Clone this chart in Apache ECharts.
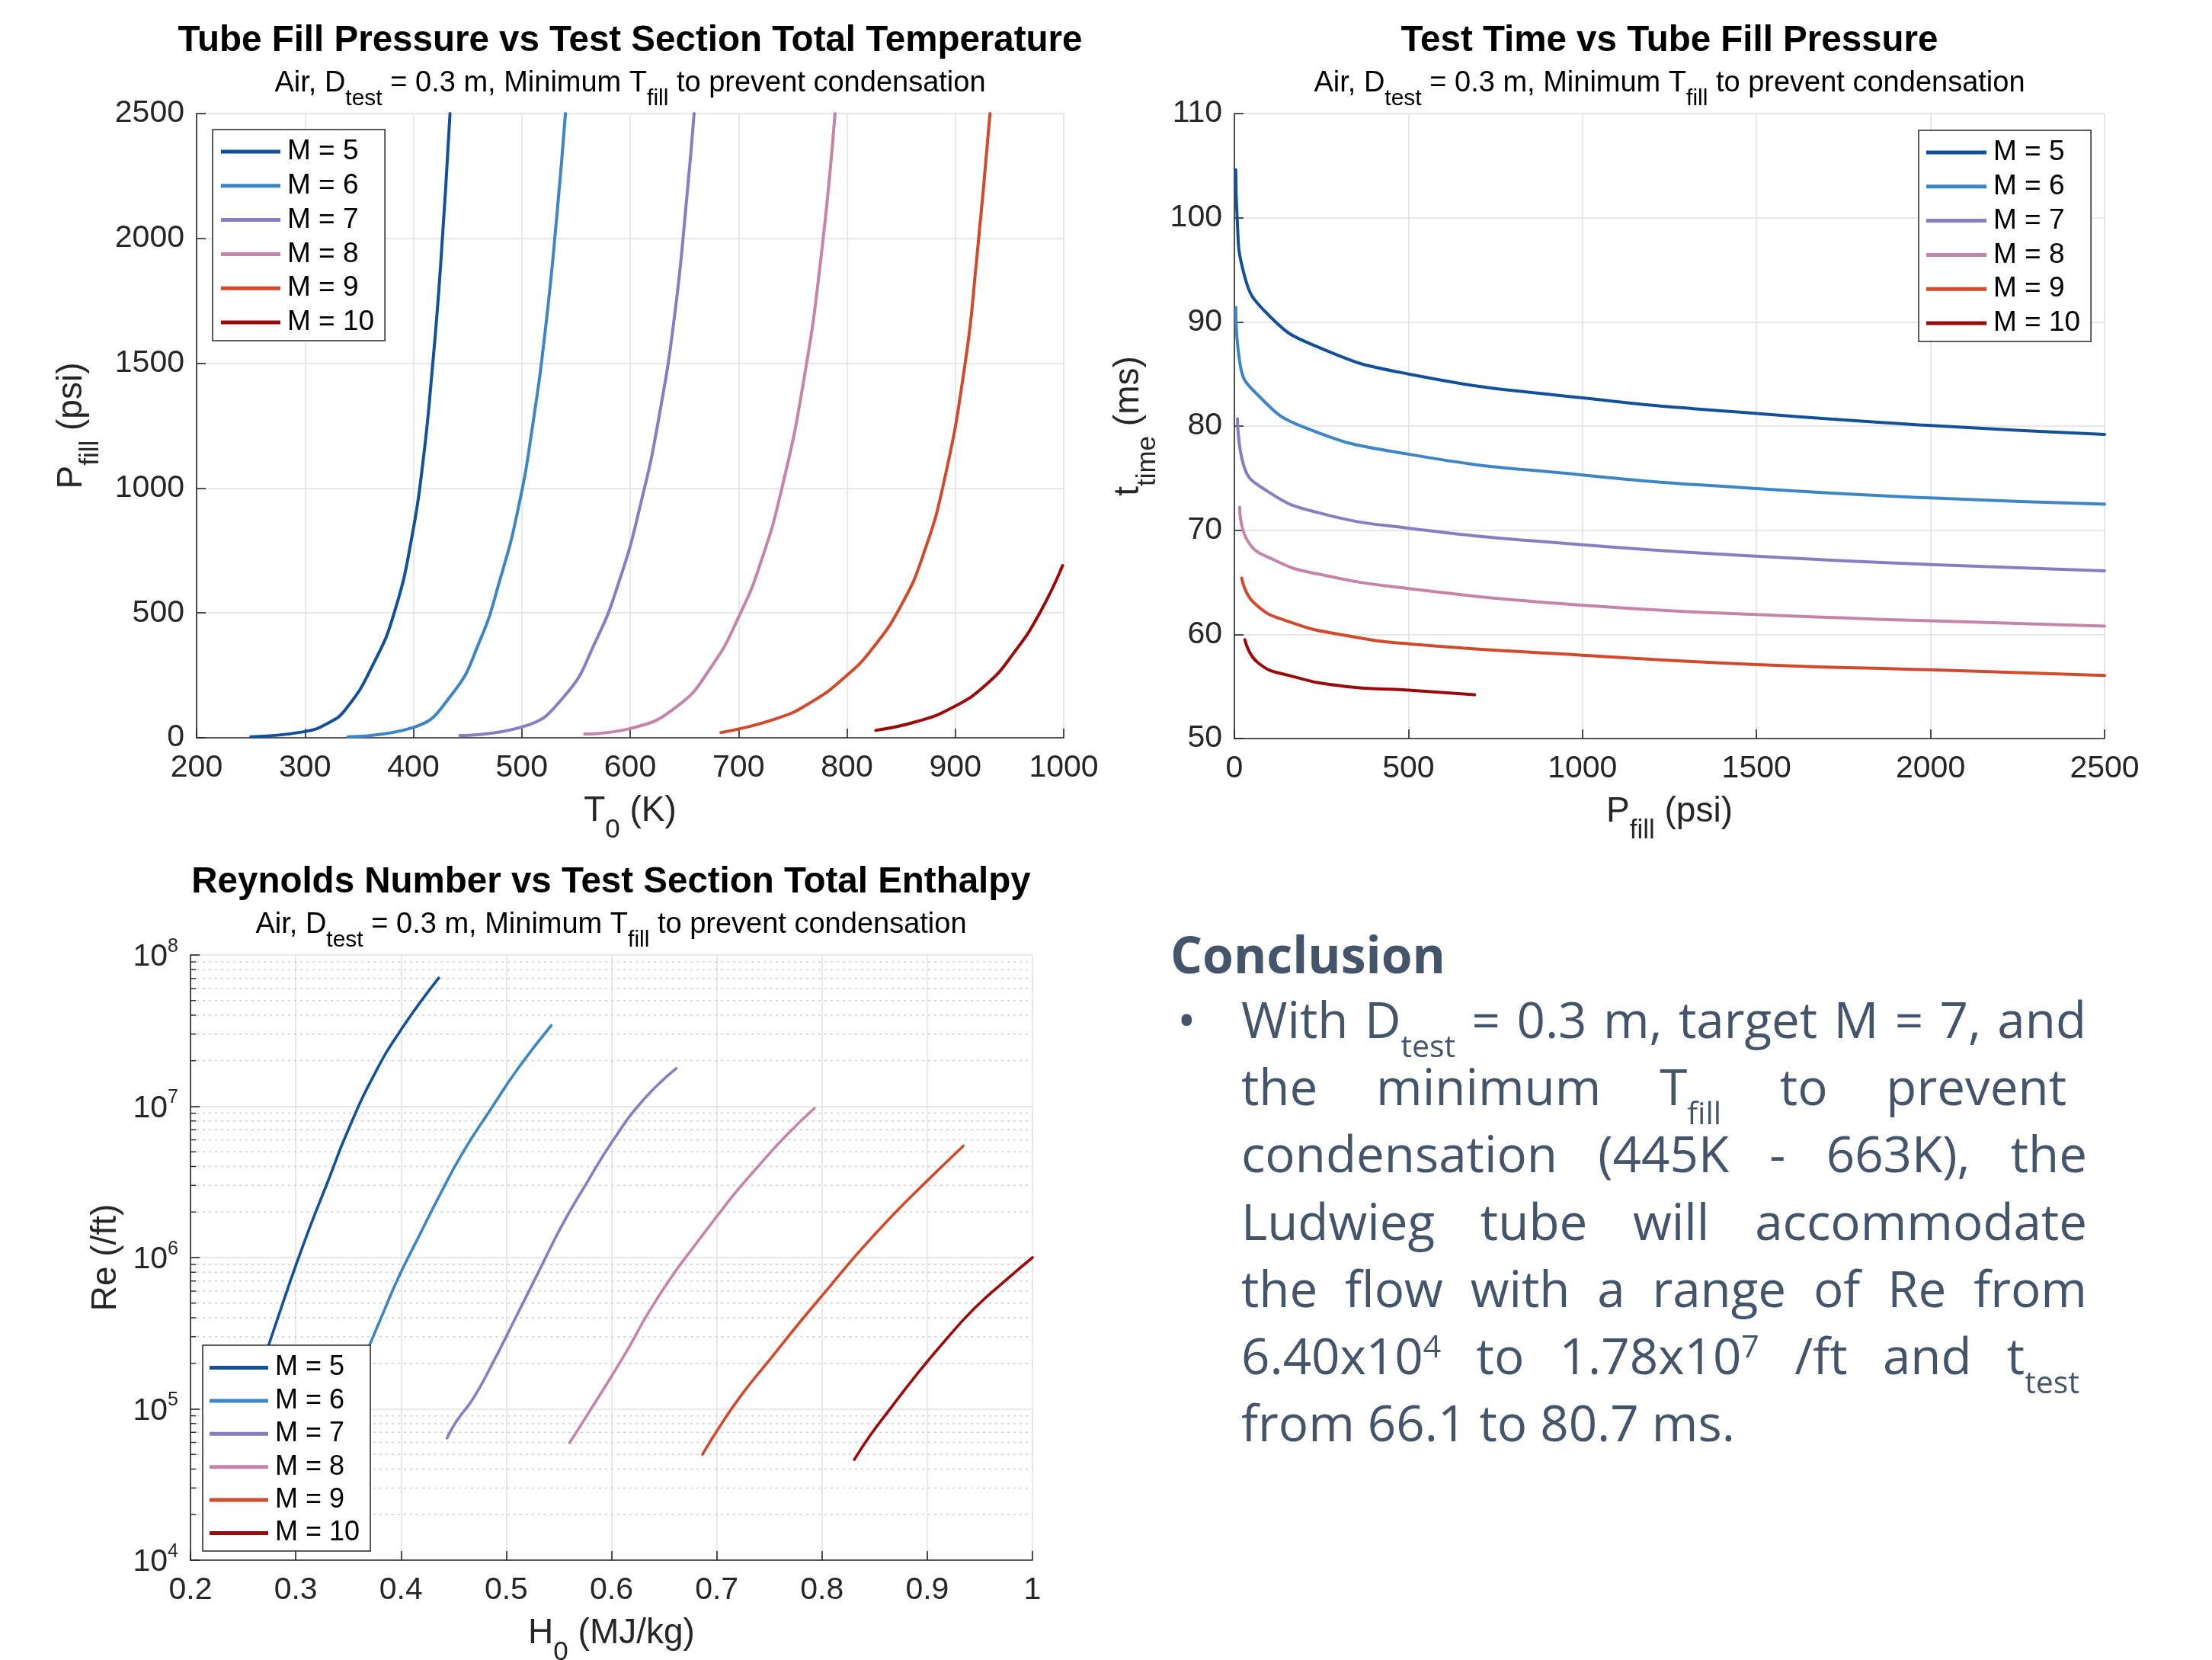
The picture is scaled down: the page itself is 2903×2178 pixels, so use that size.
<!DOCTYPE html>
<html>
<head>
<meta charset="utf-8">
<title>Ludwieg tube performance</title>
<script src="https://cdn.jsdelivr.net/npm/echarts@6/dist/echarts.min.js"></script>
<style>
  html, body { margin: 0; padding: 0; background: #ffffff; }
  #chart { width: 2903px; height: 2178px; }
</style>
</head>
<body>
<div id="chart"></div>
<script>
// ---------- series labels and colours ----------
const machLabels = ['M = 5', 'M = 6', 'M = 7', 'M = 8', 'M = 9', 'M = 10'];
const machColors = ['#12519a', '#3d86c6', '#8a7cc2', '#c684a8', '#d24a2c', '#9b0a0a'];

// ---------- Tube fill pressure (psi) vs total temperature T0 (K) ----------
const t0M5  = [250, 298.7, 320, 337.7, 363.6, 383, 399, 409, 417, 425, 433.8];
const pFillM5 = [4, 24, 56, 115, 300, 510, 813, 1110, 1455, 1884, 2500];
const t0M6  = [339.6, 399, 435, 461, 480.5, 496.8, 509.7, 522.7, 532.5, 540.3];
const pFillM6 = [4, 40, 171, 385, 642, 920, 1241, 1670, 2098, 2500];
const t0M7  = [442.9, 500, 539, 568, 591, 610, 626.6, 641.6, 652.6, 659];
const pFillM7 = [9, 43, 165, 385, 642, 942, 1284, 1712, 2180, 2500];
const t0M8  = [558, 600, 643, 675, 701, 720.8, 740, 759.7, 776, 789];
const pFillM8 = [15, 37, 125, 285, 492, 706, 1000, 1420, 1920, 2500];
const t0M9  = [683.8, 733.8, 766, 798.7, 824.7, 850.6, 870, 889.6, 909, 919, 932];
const pFillM9 = [21, 75, 140, 245, 364, 535, 728, 1027, 1498, 1884, 2500];
const t0M10 = [826.6, 863.6, 896, 928.6, 954.5, 977.3, 999];
const pFillM10 = [30, 64, 118, 214, 343, 495, 690];

// ---------- Test time (ms) vs tube fill pressure (psi) ----------
const pTubeM5 = [4, 8, 26, 97, 239, 500, 1000, 1500, 2000, 2500];
const tTimeM5 = [104.6, 99.9, 94.8, 90.7, 87.6, 85.0, 82.7, 81.2, 80.05, 79.2];
const pTubeM6 = [4, 16, 67, 199, 500, 1000, 1500, 2000, 2500];
const tTimeM6 = [91.4, 86.0, 83.0, 79.9, 77.3, 75.3, 74.0, 73.1, 72.5];
const pTubeM7 = [9, 26, 97, 239, 500, 1000, 1500, 2000, 2500];
const tTimeM7 = [80.7, 76.3, 73.7, 71.7, 70.2, 68.6, 67.5, 66.7, 66.1];
const pTubeM8 = [15, 36, 117, 239, 500, 1000, 1500, 2000, 2500];
const tTimeM8 = [72.2, 69.1, 67.1, 65.8, 64.4, 62.8, 61.9, 61.3, 60.8];
const pTubeM9 = [21, 57, 158, 320, 500, 1000, 1500, 2000, 2500];
const tTimeM9 = [65.4, 63.0, 61.2, 59.9, 59.1, 58.0, 57.1, 56.6, 56.05];
const pTubeM10 = [30, 67, 158, 320, 500, 690];
const tTimeM10 = [59.5, 57.3, 56.05, 55.0, 54.65, 54.2];

// ---------- Unit Reynolds number (/ft) vs total enthalpy H0 (MJ/kg) ----------
const h0M5 = [0.262, 0.2741, 0.2845, 0.2974, 0.3136, 0.3298, 0.349, 0.375, 0.401, 0.4359];
const reM5 = [1.48e5, 2.62e5, 4.29e5, 7.85e5, 1.60e6, 3.09e6, 6.76e6, 1.64e7, 3.28e7, 7.05e7];
const h0M6 = [0.352, 0.3686, 0.3816, 0.3977, 0.4172, 0.4366, 0.4592, 0.4851, 0.511, 0.5427];
const reM6 = [1.32e5, 2.49e5, 4.07e5, 7.41e5, 1.39e6, 2.57e6, 5.01e6, 9.51e6, 1.77e7, 3.42e7];
const h0M7 = [0.4437, 0.4528, 0.4689, 0.4883, 0.5078, 0.5304, 0.5531, 0.5757, 0.6016, 0.6307, 0.6615];
const reM7 = [6.40e4, 8.3e4, 1.18e5, 2.08e5, 3.86e5, 7.96e5, 1.64e6, 3.05e6, 5.97e6, 1.11e7, 1.78e7];
const h0M8 = [0.5602, 0.579, 0.6125, 0.6346, 0.6568, 0.679, 0.7011, 0.7178, 0.740, 0.765, 0.7928];
const reM8 = [5.97e4, 9.59e4, 2.28e5, 4.27e5, 7.41e5, 1.20e6, 1.91e6, 2.69e6, 4.06e6, 6.31e6, 9.71e6];
const h0M9 = [0.6865, 0.7035, 0.7233, 0.751, 0.7787, 0.8064, 0.8341, 0.8673, 0.9006, 0.9343];
const reM9 = [5.01e4, 7.76e4, 1.23e5, 2.14e5, 3.72e5, 6.31e5, 1.07e6, 1.91e6, 3.25e6, 5.47e6];
const h0M10 = [0.8307, 0.8452, 0.8618, 0.8895, 0.9172, 0.9449, 0.9726, 1.0];
const reM10 = [4.62e4, 6.59e4, 9.40e4, 1.67e5, 2.84e5, 4.62e5, 6.89e5, 1.0e6];

// minor log grid: multiples inside each decade
const reDecades = [1e4, 1e5, 1e6, 1e7];
const reMinorSteps = [2, 3, 4, 5, 6, 7, 8, 9];

// ---------- conclusion text (markup: _{sub}, ^{sup}) ----------
const conclusionTitle = 'Conclusion';
const conclusionLines = [
  'With D_{test} = 0.3 m, target M = 7, and',
  'the minimum T_{fill} to prevent',
  'condensation (445K - 663K), the',
  'Ludwieg tube will accommodate',
  'the flow with a range of Re from',
  '6.40x10^{4} to 1.78x10^{7} /ft and t_{test}',
  'from 66.1 to 80.7 ms.'
];

// ================= drawing =================
const FONT = '"Liberation Sans", Arial, Helvetica, sans-serif';
const INK = '#262626';
const GRID_LINE = '#e1e1e1';
const BODY_INK = '#44546a';

const zip = (xs, ys) => xs.map((x, i) => [x, ys[i]]);

const fillSets = [zip(t0M5, pFillM5), zip(t0M6, pFillM6), zip(t0M7, pFillM7),
                  zip(t0M8, pFillM8), zip(t0M9, pFillM9), zip(t0M10, pFillM10)];
const timeSets = [zip(pTubeM5, tTimeM5), zip(pTubeM6, tTimeM6), zip(pTubeM7, tTimeM7),
                  zip(pTubeM8, tTimeM8), zip(pTubeM9, tTimeM9), zip(pTubeM10, tTimeM10)];
const reSets = [zip(h0M5, reM5), zip(h0M6, reM6), zip(h0M7, reM7),
                zip(h0M8, reM8), zip(h0M9, reM9), zip(h0M10, reM10)];
const reMinorValues = [];
reDecades.forEach(d => reMinorSteps.forEach(s => reMinorValues.push(s * d)));

function curveSeries(sets, idx, width) {
  return sets.map((data, i) => ({
    type: 'line', name: machLabels[i], xAxisIndex: idx, yAxisIndex: idx,
    data, smooth: 0.5, showSymbol: false, symbol: 'none',
    silent: true, clip: true, z: 3,
    lineStyle: { color: machColors[i], width, cap: 'round', join: 'round' },
    itemStyle: { color: machColors[i] },
    emphasis: { disabled: true }
  }));
}

const nameRich = {
  m: { fontFamily: FONT, fontSize: 46, color: INK, verticalAlign: 'top' },
  s: { fontFamily: FONT, fontSize: 35, color: INK, verticalAlign: 'top', padding: [31, 0, 0, 0] }
};
const plainNumber = v => String(v);

function axisBase(gridIndex, extra) {
  return Object.assign({
    gridIndex,
    axisLine: { show: true, onZero: false, lineStyle: { color: INK, width: 1.6 } },
    axisTick: { show: true, inside: true, length: 12, lineStyle: { color: INK, width: 1.6 } },
    splitLine: { show: true, lineStyle: { color: GRID_LINE, width: 1.5 } },
    axisLabel: { color: INK, fontFamily: FONT, fontSize: 41, margin: 19, formatter: plainNumber },
    nameLocation: 'middle',
    nameTextStyle: { fontFamily: FONT, fontSize: 46, color: INK, rich: nameRich }
  }, extra);
}

const subtitle = '{a|Air, D}{s|test}{a| = 0.3 m, Minimum T}{s|fill}{a| to prevent condensation}';
const subRich = {
  a: { fontFamily: FONT, fontSize: 38, color: '#000', verticalAlign: 'top' },
  s: { fontFamily: FONT, fontSize: 30, color: '#000', verticalAlign: 'top', padding: [24, 0, 0, 0] }
};
function titleAt(text, cx, top) {
  return {
    text, subtext: subtitle, left: cx, top, textAlign: 'center', padding: 0, itemGap: 13,
    textStyle: { fontFamily: FONT, fontSize: 47.5, fontWeight: 'bold', color: '#000' },
    subtextStyle: { fontFamily: FONT, fontSize: 38, color: '#000', rich: subRich }
  };
}

function legendAt(left, top, pad, iconW, fontSize, rowH, gap) {
  return {
    show: true, orient: 'vertical', left, top, padding: pad, itemGap: gap,
    itemWidth: iconW, itemHeight: 5, icon: 'rect', selectedMode: false,
    backgroundColor: '#ffffff', borderColor: INK, borderWidth: 1.5, borderRadius: 0,
    data: machLabels, z: 10,
    itemStyle: { borderWidth: 0 },
    textStyle: { fontFamily: FONT, fontSize, color: '#000', lineHeight: rowH, padding: [0, 0, 0, 4] }
  };
}

// ---------- conclusion paragraph layout (justified) ----------
const measureCtx = document.createElement('canvas').getContext('2d');
const BODY_FAMILY = '"Open Sans"';
function bodyFont(size, weight) { return `${weight} ${size}px ${BODY_FAMILY}`; }
function textWidth(t, size, weight) {
  measureCtx.font = bodyFont(size, weight);
  return measureCtx.measureText(t).width;
}
function middleOffset(size, weight) {
  measureCtx.font = bodyFont(size, weight);
  measureCtx.textBaseline = 'middle';
  const m = measureCtx.measureText('H');
  measureCtx.textBaseline = 'alphabetic';
  return m.actualBoundingBoxDescent;
}
function parseWord(w) {
  const segs = []; const re = /([_^])\{([^}]*)\}/g; let last = 0, m;
  while ((m = re.exec(w))) {
    if (m.index > last) segs.push({ t: w.slice(last, m.index), k: 'n' });
    segs.push({ t: m[2], k: m[1] === '_' ? 'sub' : 'sup' });
    last = re.lastIndex;
  }
  if (last < w.length) segs.push({ t: w.slice(last), k: 'n' });
  return segs;
}
function textEl(text, x, baseline, size, weight) {
  return {
    type: 'text', x, y: baseline - middleOffset(size, weight), silent: true, z: 20,
    style: {
      text, fill: BODY_INK, font: bodyFont(size, weight),
      fontFamily: BODY_FAMILY, fontSize: size, fontWeight: weight,
      align: 'left', verticalAlign: 'middle', textAlign: 'left', textVerticalAlign: 'middle'
    }
  };
}
function buildConclusion() {
  const els = [];
  const BODY = 65.5, SCRIPT = 41, SUB_SHIFT = 25, SUP_SHIFT = -22;
  const left = 1629, firstBaseline = 1362, lineStep = 88.2;
  const rightEdges = [2738, 2712, 2739, 2739, 2739, 2729, null];
  els.push(textEl(conclusionTitle, 1536, 1277, 66, 'bold'));
  els.push(textEl('\u2022', 1545, firstBaseline, BODY, 'normal'));
  conclusionLines.forEach((line, li) => {
    const words = line.split(' ').map(parseWord);
    const segSize = s => (s.k === 'n' ? BODY : SCRIPT);
    const widths = words.map(segs => segs.reduce((a, s) => a + textWidth(s.t, segSize(s), 'normal'), 0));
    const total = widths.reduce((a, b) => a + b, 0);
    const right = rightEdges[li];
    const gap = right && words.length > 1 ? (right - left - total) / (words.length - 1)
                                          : textWidth(' ', BODY, 'normal');
    const baseline = firstBaseline + li * lineStep;
    let x = left;
    words.forEach(segs => {
      segs.forEach(s => {
        const size = segSize(s);
        const shift = s.k === 'sub' ? SUB_SHIFT : (s.k === 'sup' ? SUP_SHIFT : 0);
        els.push(textEl(s.t, x, baseline + shift, size, 'normal'));
        x += textWidth(s.t, size, 'normal');
      });
      x += gap;
    });
  });
  return els;
}

const option = {
  animation: false,
  backgroundColor: '#ffffff',
  title: [
    titleAt('Tube Fill Pressure vs Test Section Total Temperature', 827, 30),
    titleAt('Test Time vs Tube Fill Pressure', 2191, 30),
    titleAt('Reynolds Number vs Test Section Total Enthalpy', 802, 1134)
  ],
  grid: [
    { left: 258, top: 149, width: 1138, height: 819, outerBoundsMode: 'none', containLabel: false },
    { left: 1620, top: 149, width: 1142, height: 820, outerBoundsMode: 'none', containLabel: false },
    { left: 250, top: 1253, width: 1105, height: 794, outerBoundsMode: 'none', containLabel: false }
  ],
  legend: [
    legendAt(279, 170, [9, 14, 4, 11], 78, 37, 40, 4.8),
    legendAt(2518, 171, [9, 14, 4, 10], 79, 37, 40, 4.8),
    legendAt(266, 1765, [10, 14, 4, 9], 77, 36, 39, 4.4)
  ],
  xAxis: [
    axisBase(0, { type: 'value', min: 200, max: 1000, interval: 100,
      name: '{m|T}{s|0}{m| (K)}', nameGap: 73 }),
    axisBase(1, { type: 'value', min: 0, max: 2500, interval: 500,
      name: '{m|P}{s|fill}{m| (psi)}', nameGap: 73 }),
    axisBase(2, { type: 'value', min: 0.2, max: 1, interval: 0.1,
      name: '{m|H}{s|0}{m| (MJ/kg)}', nameGap: 73,
      axisLabel: { color: INK, fontFamily: FONT, fontSize: 41, margin: 19,
        formatter: v => String(+v.toFixed(1)) } })
  ],
  yAxis: [
    axisBase(0, { type: 'value', min: 0, max: 2500, interval: 500,
      name: '{m|P}{s|fill}{m| (psi)}', nameGap: 121,
      axisLabel: { color: INK, fontFamily: FONT, fontSize: 41, margin: 16, formatter: plainNumber } }),
    axisBase(1, { type: 'value', min: 50, max: 110, interval: 10,
      name: '{m|t}{s|time}{m| (ms)}', nameGap: 96,
      axisLabel: { color: INK, fontFamily: FONT, fontSize: 41, margin: 16, formatter: plainNumber } }),
    axisBase(2, { type: 'log', logBase: 10, min: 1e4, max: 1e8,
      name: '{m|Re (/ft)}', nameGap: 88,
      axisLabel: { color: INK, fontFamily: FONT, margin: 16,
        formatter: v => `{b|10}{e|${Math.round(Math.log10(v))}}`,
        rich: {
          b: { fontFamily: FONT, fontSize: 41, color: INK, verticalAlign: 'top', padding: [6, 0, 0, 0] },
          e: { fontFamily: FONT, fontSize: 25, color: INK, verticalAlign: 'top' }
        } } })
  ],
  series: [
    {
      type: 'custom', xAxisIndex: 2, yAxisIndex: 2, silent: true, z: 1, clip: false,
      data: reMinorValues.map(v => [0.2, v]),
      renderItem(params, api) {
        const y = api.coord([api.value(0), api.value(1)])[1];
        const cs = params.coordSys;
        return {
          type: 'group', children: [
            { type: 'line', shape: { x1: cs.x, y1: y, x2: cs.x + cs.width, y2: y },
              style: { stroke: '#cfcfcf', lineWidth: 1.5, lineDash: [3, 5] } },
            { type: 'line', shape: { x1: cs.x, y1: y, x2: cs.x + 7, y2: y },
              style: { stroke: INK, lineWidth: 1.4 } }
          ]
        };
      }
    },
    ...curveSeries(fillSets, 0, 4),
    ...curveSeries(timeSets, 1, 4),
    ...curveSeries(reSets, 2, 3.6)
  ],
  graphic: { elements: buildConclusion() }
};

const chart = echarts.init(document.getElementById('chart'), null, { renderer: 'canvas' });
chart.setOption(option);
</script>
</body>
</html>
